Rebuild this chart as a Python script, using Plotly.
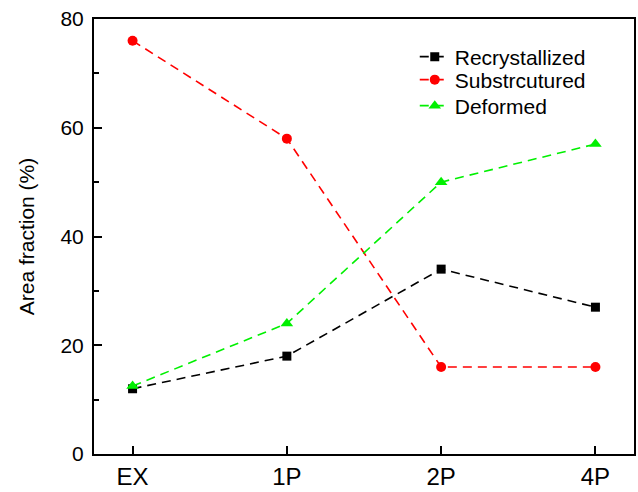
import plotly.graph_objects as go

categories = ["EX", "1P", "2P", "4P"]
recrystallized = [12, 18, 34, 27]
substructured = [76, 58, 16, 16]
deformed = [12.5, 24, 50, 57]
y_ticks = [0, 20, 40, 60, 80]

x = list(range(len(categories)))

dash = "9px,6px"
fig = go.Figure()
fig.add_trace(go.Scatter(x=x, y=recrystallized, name="Recrystallized", mode="lines+markers",
                         line=dict(color="black", dash=dash, width=1.6),
                         marker=dict(symbol="square", size=9, color="black"), legend="legend"))
fig.add_trace(go.Scatter(x=x, y=substructured, name="Substrcutured", mode="lines+markers",
                         line=dict(color="#ff0000", dash=dash, width=1.6),
                         marker=dict(symbol="circle", size=10, color="#ff0000"), legend="legend2"))
fig.add_trace(go.Scatter(x=x, y=deformed, name="Deformed", mode="lines+markers",
                         line=dict(color="#00f000", dash=dash, width=1.6),
                         marker=dict(symbol="triangle-up", size=11, color="#00f000"), legend="legend3"))

leg = dict(x=0.594, xanchor="left", yanchor="middle", bgcolor="rgba(0,0,0,0)",
           font=dict(size=21), itemwidth=30)
fig.update_layout(
    width=638, height=492,
    margin=dict(l=94, r=4, t=19, b=38, autoexpand=False),
    paper_bgcolor="white", plot_bgcolor="white",
    font=dict(family="Liberation Sans, Arial", color="black"),
    legend=dict(leg, y=0.9126),
    legend2=dict(leg, y=0.8598),
    legend3=dict(leg, y=0.80),
    showlegend=True,
)
fig.update_xaxes(range=[-0.25, 3.25], tickmode="array", tickvals=x, ticktext=categories,
                 showline=True, linecolor="black", linewidth=2, mirror=True,
                 ticks="inside", ticklen=8, tickwidth=1.5, tickcolor="black",
                 tickfont=dict(size=24), showgrid=False, zeroline=False,
                 automargin=False, ticklabelstandoff=0)
fig.update_yaxes(range=[0, 80], tickmode="array", tickvals=y_ticks,
                 showline=True, linecolor="black", linewidth=2, mirror=True,
                 ticks="inside", ticklen=8, tickwidth=1.5, tickcolor="black",
                 minor=dict(ticks="inside", ticklen=5, dtick=10, tickcolor="black", tickwidth=1.5),
                 tickfont=dict(size=21), showgrid=False, zeroline=False,
                 automargin=False, ticklabelstandoff=4,
                 title=dict(text="Area fraction (%)", font=dict(size=21), standoff=20))

fig.write_html("out.html")
